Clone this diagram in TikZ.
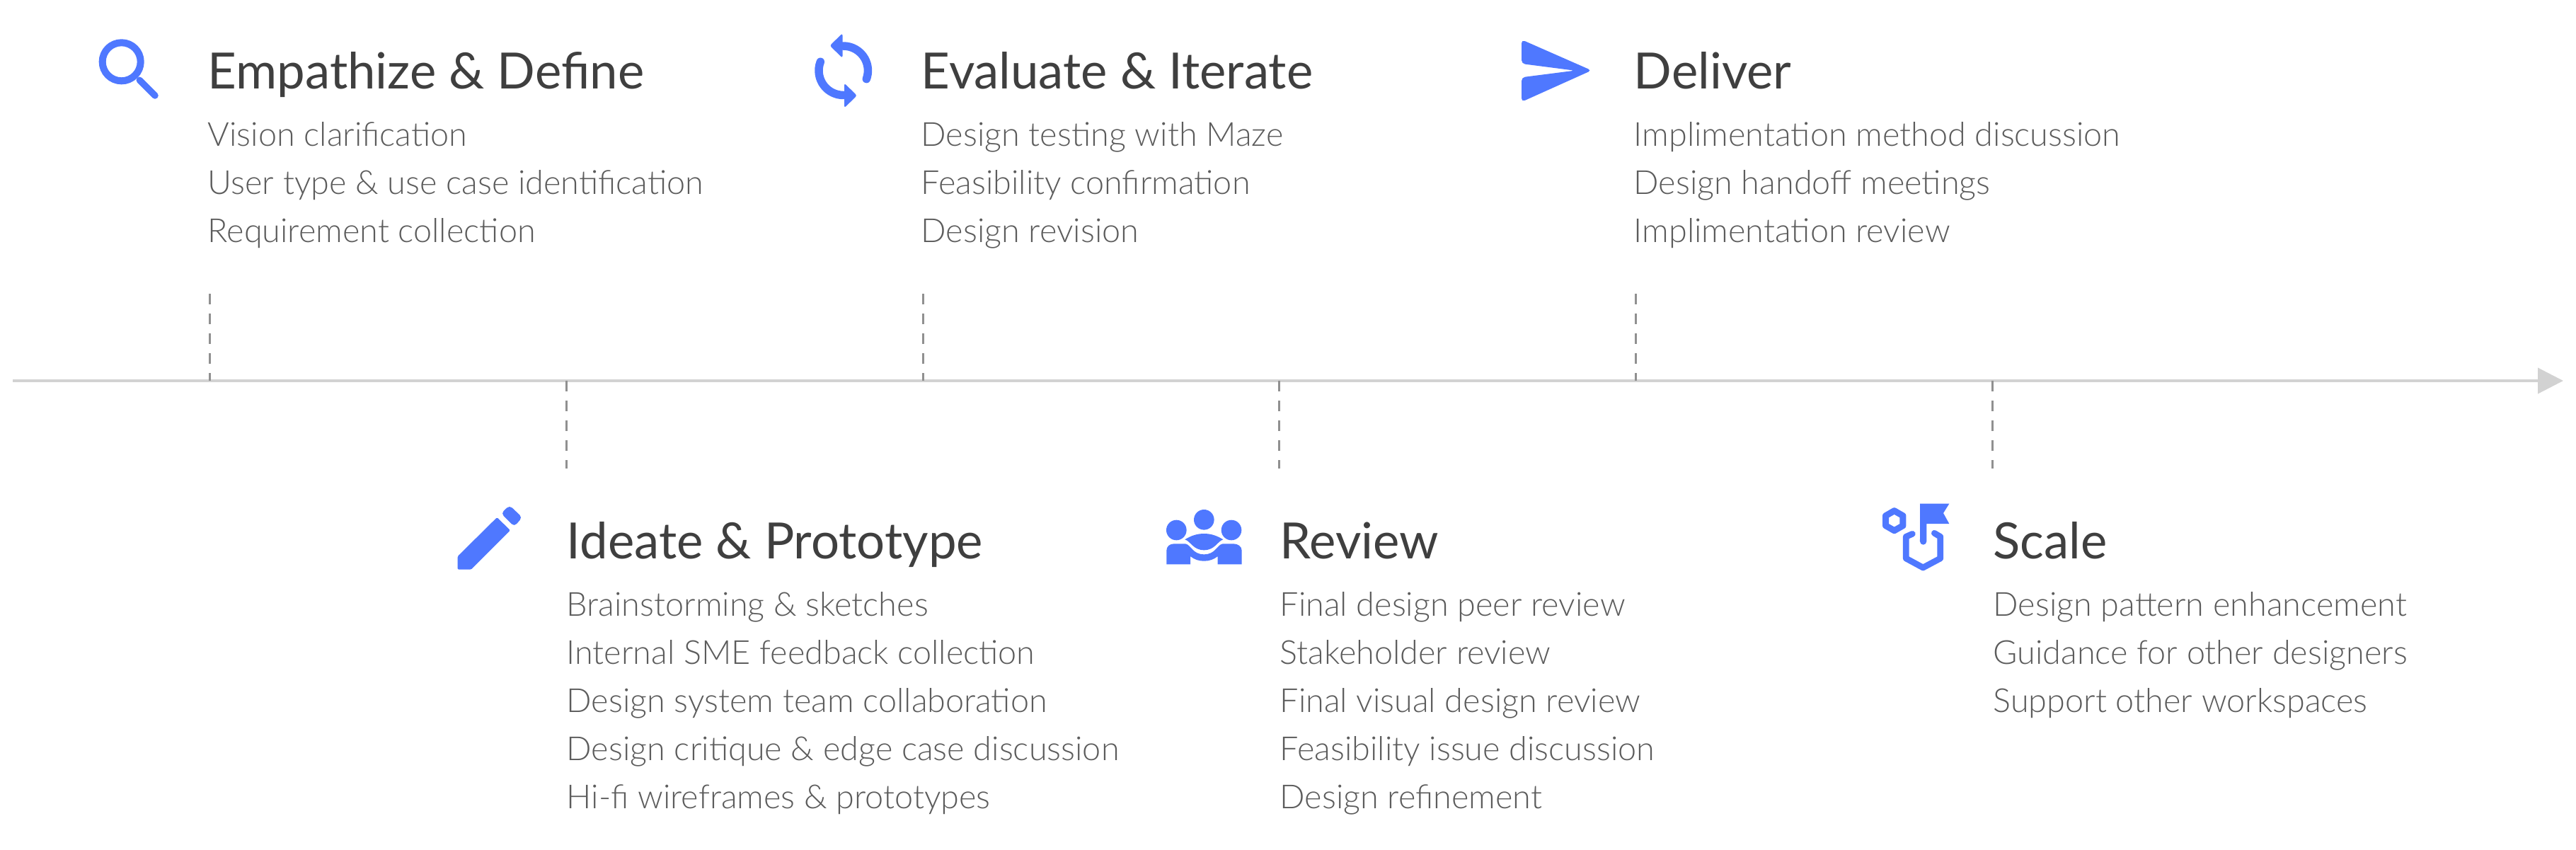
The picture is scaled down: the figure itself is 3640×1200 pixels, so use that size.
\documentclass[tikz,border=0pt]{standalone}
\usepackage{fontspec}
\setmainfont{Lato}
\newfontfamily\itemfont{Lato Light}
\usetikzlibrary{arrows.meta}
\definecolor{iconblue}{HTML}{4F78FF}
\definecolor{headgray}{HTML}{3F3F3F}
\definecolor{itemgray}{HTML}{5C5C5C}
\definecolor{axisgray}{HTML}{D2D2D2}
\definecolor{guidegray}{HTML}{909090}
\tikzset{
	heading/.style={anchor=base west, inner sep=0pt, text=headgray, font=\fontsize{20.1}{24}\selectfont},
	item/.style={anchor=base west, inner sep=0pt, text=itemgray, font=\itemfont\fontsize{13.3}{16}\selectfont},
	guide/.style={guidegray, line width=.03cm, dash pattern=on .15cm off .13cm},
	iconfill/.style={fill=iconblue, draw=none},
	iconline/.style={draw=iconblue, line cap=round, line join=round},
}
\begin{document}
\begin{tikzpicture}[x=.01cm, y=-.01cm]
	\useasboundingbox (0,0) rectangle (3640,1200);

	\coordinate (start) at (18,538);
	\coordinate (end) at (3622,538);
	\draw[axisgray, line width=.04cm, -{Triangle[length=.36cm,width=.36cm]}] (start) -- (end);

	\coordinate (t0) at (296,538);
	\coordinate (t1) at (800,538);
	\coordinate (t2) at (1304,538);
	\coordinate (t3) at (1807,538);
	\coordinate (t4) at (2311,538);
	\coordinate (t5) at (2815,538);

	\coordinate (g0) at (296,415);
	\coordinate (g1) at (800,662);
	\coordinate (g2) at (1304,415);
	\coordinate (g3) at (1807,662);
	\coordinate (g4) at (2311,415);
	\coordinate (g5) at (2815,662);

	\draw[guide] (g0) -- (t0);
	\draw[guide] (t1) -- (g1);
	\draw[guide] (g2) -- (t2);
	\draw[guide] (t3) -- (g3);
	\draw[guide] (g4) -- (t4);
	\draw[guide] (t5) -- (g5);

	\node[heading] (h0) at (293,125) {Empathize \& Define};
	\node[item] (a0) at (293,206) {Vision clarification};
	\node[item] (a1) at (293,274) {User type \& use case identification};
	\node[item] (a2) at (293,342) {Requirement collection};

	\node[heading] (h1) at (800,789) {Ideate \& Prototype};
	\node[item] (b0) at (800,870) {Brainstorming \& sketches};
	\node[item] (b1) at (800,938) {Internal SME feedback collection};
	\node[item] (b2) at (800,1006) {Design system team collaboration};
	\node[item] (b3) at (800,1074) {Design critique \& edge case discussion};
	\node[item] (b4) at (800,1142) {Hi-fi wireframes \& prototypes};

	\node[heading] (h2) at (1301,125) {Evaluate \& Iterate};
	\node[item] (c0) at (1301,206) {Design testing with Maze};
	\node[item] (c1) at (1301,274) {Feasibility confirmation};
	\node[item] (c2) at (1301,342) {Design revision};

	\node[heading] (h3) at (1808,789) {Review};
	\node[item] (d0) at (1808,870) {Final design peer review};
	\node[item] (d1) at (1808,938) {Stakeholder review};
	\node[item] (d2) at (1808,1006) {Final visual design review};
	\node[item] (d3) at (1808,1074) {Feasibility issue discussion};
	\node[item] (d4) at (1808,1142) {Design refinement};

	\node[heading] (h4) at (2308,125) {Deliver};
	\node[item] (e0) at (2308,206) {Implimentation method discussion};
	\node[item] (e1) at (2308,274) {Design handoff meetings};
	\node[item] (e2) at (2308,342) {Implimentation review};

	\node[heading] (h5) at (2816,789) {Scale};
	\node[item] (f0) at (2816,870) {Design pattern enhancement};
	\node[item] (f1) at (2816,938) {Guidance for other designers};
	\node[item] (f2) at (2816,1006) {Support other workspaces};

	\draw[iconline, line width=.1cm] (171.7,87.3) circle[radius=.27cm];
	\draw[iconline, line width=.095cm] (197.3,113.3) -- (219,135);

	\draw[iconline, line width=.115cm] (1191.7,65) arc[start angle=90, end angle=-20, radius=.347cm];
	\draw[iconline, line width=.115cm] (1159.3,87.3) arc[start angle=159, end angle=270, radius=.347cm];
	\fill[iconfill, rounded corners=.03cm] (1172.5,64.5) -- (1190.5,47) -- (1190.5,82) -- cycle;
	\fill[iconfill, rounded corners=.03cm] (1211,135) -- (1193,117.5) -- (1193,152.5) -- cycle;

	\fill[iconfill, rounded corners=.05cm] (2150,56) -- (2249,99.5) -- (2150,144) -- (2150,109.3) -- (2225,99.7) -- (2150,90) -- cycle;

	\fill[iconfill, rounded corners=.015cm] (702.3,731) -- (721,749.3) -- (665.7,804.7) -- (646.7,804.7) -- (646.7,786) -- cycle;
	\fill[iconfill, rounded corners=.05cm] (708,725.3) -- (720,714) -- (738,731) -- (726.7,744) -- cycle;

	\fill[iconfill] (1701.3,734.3) circle[radius=.143cm];
	\fill[iconfill] (1662.3,749) circle[radius=.143cm];
	\fill[iconfill] (1740,749) circle[radius=.143cm];
	\fill[iconfill] (1648.3,797.3) -- (1648.3,778) .. controls (1648.3,772) and (1653,768.3) .. (1659,768.3) -- (1675,768.3) .. controls (1683.3,770) and (1685,783.3) .. (1701.3,783.3) .. controls (1717.7,783.3) and (1719.3,770) .. (1727.7,768.3) -- (1743,768.3) .. controls (1749,768.3) and (1754.7,772) .. (1754.7,778) -- (1754.7,797.3) -- (1720.7,797.3) -- (1720.7,786) .. controls (1715,790.7) and (1708.3,792.7) .. (1701.3,792.7) .. controls (1694.3,792.7) and (1687.7,790.7) .. (1682,786) -- (1682,797.3) -- cycle;
	\fill[iconfill] (1674.3,762.3) .. controls (1683.3,756.7) and (1691.7,754) .. (1701.3,754) .. controls (1711,754) and (1719.3,756.7) .. (1728.3,762.3) .. controls (1720,765) and (1716.7,777.3) .. (1701.3,777.3) .. controls (1686,777.3) and (1682.7,765) .. cycle;

	\draw[iconline, line width=.09cm] (2676.7,721.7) -- (2688.9,728.7) -- (2688.9,742.7) -- (2676.7,749.7) -- (2664.5,742.7) -- (2664.5,728.7) -- cycle;
	\draw[iconline, line width=.087cm] (2702.3,754.3) -- (2693.3,758.3) -- (2693.3,789) -- (2717.3,802) -- (2741.7,789) -- (2741.7,758.3) -- (2733.3,753.3);
	\fill[iconfill] (2713,711.7) -- (2754.3,711.7) -- (2746,725) -- (2754.3,740) -- (2722.3,740) -- (2722.3,765) arc[start angle=0, end angle=-180, radius=.0467cm] -- cycle;
\end{tikzpicture}
\end{document}
